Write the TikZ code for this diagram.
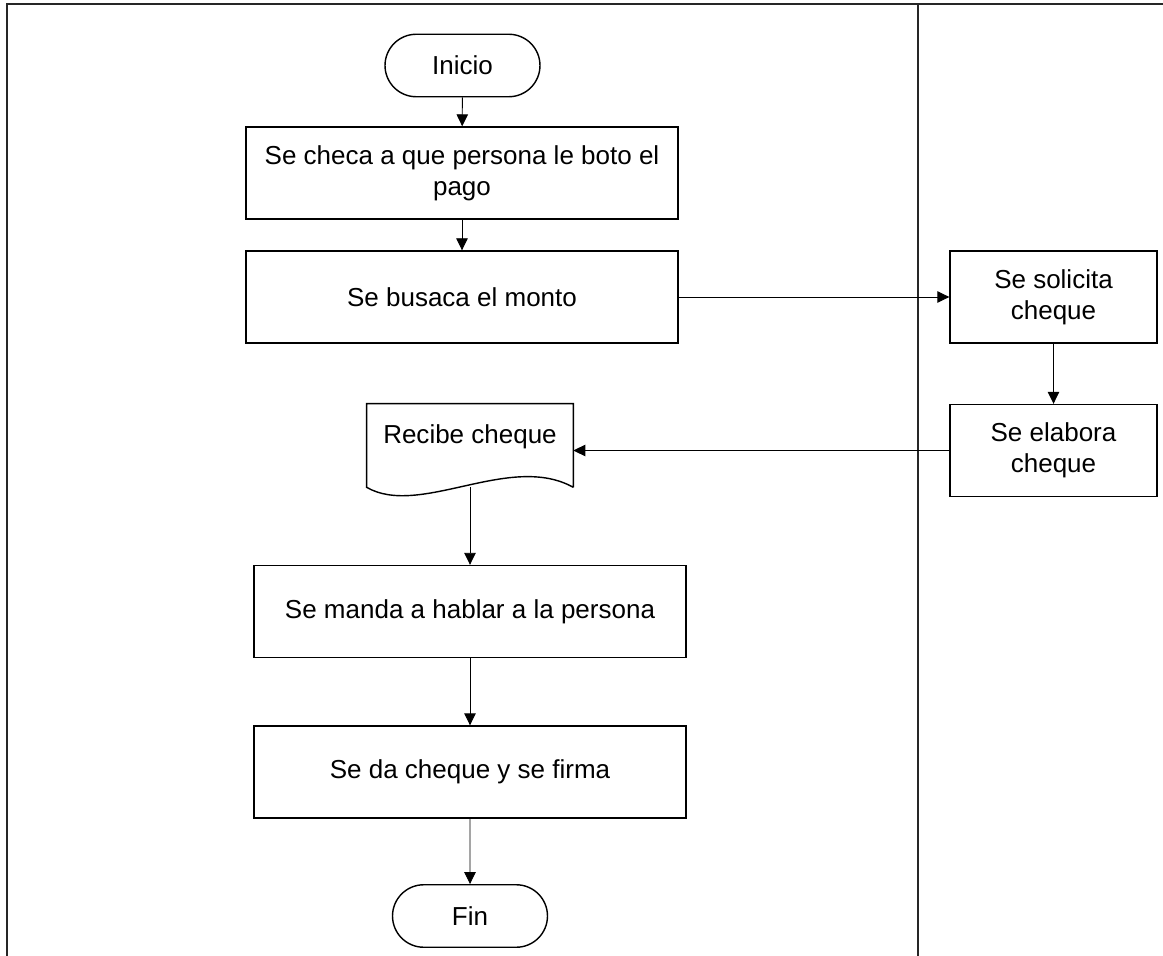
\documentclass[tikz,border=0pt]{standalone}
\usepackage{fontspec}
\setmainfont{Liberation Sans}
\usetikzlibrary{arrows.meta,shapes.misc}

\begin{document}
\begin{tikzpicture}[
x=0.02cm, y=-0.02cm,
font=\fontsize{14.8}{17.5}\selectfont,
lane/.style={draw=black!85, line width=0.9pt},
proc/.style={draw=black, line width=0.8pt, align=center,
    minimum width=8.64cm, minimum height=1.84cm, inner sep=0pt},
side/.style={proc, minimum width=4.14cm},
term/.style={draw=black, line width=0.8pt, rounded rectangle,
    minimum width=3.1cm, minimum height=1.25cm, inner sep=0pt},
flow/.style={line width=0.5pt, -{Triangle[length=2.4mm, width=2.3mm]}},
]
\useasboundingbox (0,0) rectangle (1163,956);

% swimlanes
\draw[lane] (7,956) -- (7,4) -- (1163,4);
\draw[lane] (918,4) -- (918,956);

% left lane
\node[term] (inicio) at (462.5,65.5) {Inicio};
\node[proc] (checa) at (462,173) {Se checa a que persona le boto el\\pago};
\node[proc] (monto) at (462,297) {Se busaca el monto};
\node[minimum width=4.12cm, minimum height=1.66cm, inner sep=0pt] (recibe) at (470,445.5) {};
\node at (470,437) {Recibe cheque};
\draw[line width=0.8pt] (recibe.south east) -- (recibe.north east) -- (recibe.north west) -- (recibe.south west)
    .. controls (420,518) and (510,452) .. (recibe.south east);
\node[proc] (manda) at (470,611.5) {Se manda a hablar a la persona};
\node[proc] (firma) at (470,772) {Se da cheque y se firma};
\node[term] (fin) at (470,916) {Fin};

% right lane
\node[side] (solicita) at (1053.5,297) {Se solicita\\cheque};
\node[side] (elabora) at (1053.5,450.5) {Se elabora\\cheque};

\draw[flow] (inicio) -- (checa);
\draw[flow] (checa) -- (monto);
\draw[flow] (monto) -- (solicita);
\draw[flow] (solicita) -- (elabora);
\draw[flow] (elabora.west) -- (elabora.west -| recibe.east);
\draw[flow] (recibe.south) -- (manda);
\draw[flow] (manda) -- (firma);
\draw[flow] (firma) -- (fin);

\end{tikzpicture}
\end{document}
